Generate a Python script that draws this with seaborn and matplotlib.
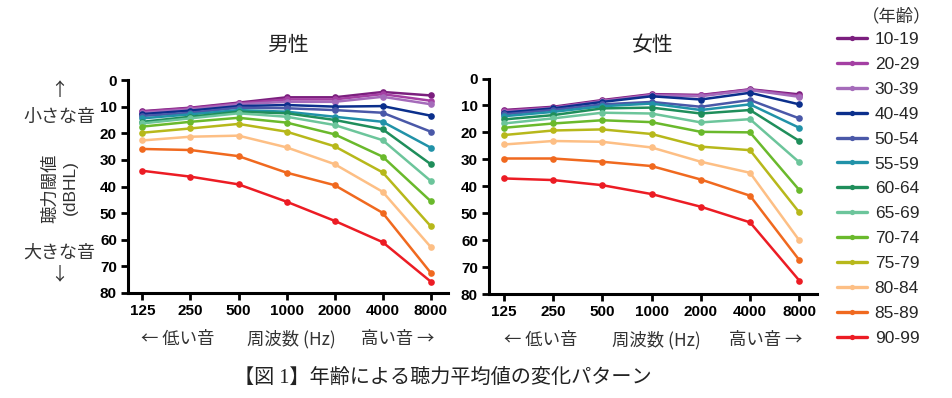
import numpy as np
import pandas as pd
import matplotlib
matplotlib.use("Agg")
import matplotlib.pyplot as plt
import matplotlib.transforms as mtransforms
from matplotlib.lines import Line2D
import seaborn as sns

freqs = ["125", "250", "500", "1000", "2000", "4000", "8000"]
ages = ["10-19", "20-29", "30-39", "40-49", "50-54", "55-59", "60-64",
        "65-69", "70-74", "75-79", "80-84", "85-89", "90-99"]
colors = ["#7b1f7e", "#a43fa3", "#a56bba", "#0b2f8c", "#4a58a8", "#2192a8",
          "#1f8e5b", "#6cc59b", "#6ab92c", "#b7b81b", "#fdbf85", "#f0691f",
          "#ec1c24"]

# hearing threshold (dBHL), one row per age group
male_db = [
    [11.7, 10.4, 8.5, 6.5, 6.5, 4.5, 5.8],
    [11.9, 10.6, 8.8, 7.3, 7.3, 5.3, 7.8],
    [12.3, 11.0, 9.1, 8.2, 8.2, 6.3, 9.1],
    [12.8, 11.5, 9.8, 9.4, 10.0, 9.8, 13.4],
    [13.5, 12.3, 10.4, 10.6, 11.3, 12.3, 19.4],
    [14.4, 12.9, 11.3, 11.9, 13.8, 15.7, 25.4],
    [15.7, 13.8, 11.9, 12.5, 15.0, 18.5, 31.6],
    [16.3, 14.4, 12.5, 13.8, 16.9, 22.6, 37.9],
    [17.5, 15.7, 14.2, 16.0, 20.4, 28.8, 45.5],
    [19.8, 18.2, 16.5, 19.4, 24.9, 34.7, 54.9],
    [22.7, 21.3, 20.9, 25.3, 31.6, 42.0, 62.7],
    [25.9, 26.3, 28.6, 34.8, 39.5, 49.9, 72.4],
    [34.1, 36.3, 39.2, 45.7, 52.9, 60.9, 75.7],
]
female_db = [
    [11.7, 10.5, 8.0, 5.8, 6.1, 4.0, 5.9],
    [12.0, 10.8, 8.3, 6.0, 6.3, 4.1, 6.4],
    [12.4, 10.9, 8.4, 6.2, 6.6, 4.3, 6.8],
    [12.7, 11.1, 8.7, 6.6, 7.8, 5.3, 9.6],
    [13.3, 11.7, 9.6, 8.7, 10.5, 8.0, 14.8],
    [14.0, 12.4, 10.3, 9.3, 11.7, 9.6, 18.3],
    [15.2, 13.6, 11.1, 10.8, 13.0, 11.7, 23.2],
    [16.7, 14.8, 12.7, 13.0, 16.3, 15.1, 31.1],
    [18.3, 16.7, 15.5, 16.2, 19.8, 20.0, 41.4],
    [21.0, 19.3, 18.9, 20.6, 25.3, 26.6, 49.7],
    [24.5, 23.2, 23.5, 25.6, 30.9, 35.0, 60.1],
    [29.7, 29.7, 30.9, 32.5, 37.5, 43.5, 67.4],
    [37.1, 37.7, 39.6, 42.9, 47.6, 53.4, 75.0],
]


def to_long(values):
    rows = []
    for age, row in zip(ages, values):
        for i, v in enumerate(row):
            rows.append({"age": age, "freq": i, "db": v})
    return pd.DataFrame(rows)


sns.set_style("ticks")
plt.rcParams["font.family"] = ["Liberation Sans", "Noto Sans CJK JP", "DejaVu Sans"]
cjk = ["Noto Sans CJK JP", "DejaVu Sans"]

fig = plt.figure(figsize=(9.53, 3.98), dpi=100)
ax_m = fig.add_axes([128 / 953, 1 - 293 / 398, 320 / 953, 213 / 398])
ax_f = fig.add_axes([489 / 953, 1 - 294 / 398, 328 / 953, 215.5 / 398])
palette = dict(zip(ages, colors))

for ax, data, title, cx in [(ax_m, male_db, "男性", 288), (ax_f, female_db, "女性", 653)]:
    df = to_long(data)
    sns.lineplot(data=df, x="freq", y="db", hue="age", palette=palette,
                 marker="o", markersize=4.8, markeredgewidth=0, lw=1.8,
                 legend=False, ax=ax)
    ax.set_xlim(-0.3, 6.36)
    ax.set_ylim(80, 0)
    ax.set_yticks(np.arange(0, 81, 10))
    ax.set_xticks(range(len(freqs)))
    ax.set_xticklabels(freqs)
    ax.set_xlabel("")
    ax.set_ylabel("")
    sns.despine(ax=ax)
    for s in ["left", "bottom"]:
        ax.spines[s].set_linewidth(2.2)
        ax.spines[s].set_color("black")
    ax.tick_params(width=2.0, length=5, labelsize=11, pad=3, colors="black")
    for lab in ax.get_xticklabels() + ax.get_yticklabels():
        lab.set_fontweight("bold")
    fig.text(cx / 953, 1 - 45 / 398, title, ha="center", va="center",
             fontsize=15, family=cjk, color="#222222")
    tr = mtransforms.blended_transform_factory(ax.transData, ax.transAxes)
    for xpos, txt in [(0.74, "← 低い音"), (3.1, "周波数 (Hz)"), (5.32, "高い音 →")]:
        ax.text(xpos, -0.215, txt, transform=tr, ha="center", va="center",
                fontsize=12.5, family=cjk, color="#333333")

# y-axis explanation
fig.text(59 / 953, 1 - 91 / 398, "↑", ha="center", va="center", fontsize=13, family=cjk, color="#333333")
fig.text(59 / 953, 1 - 117 / 398, "小さな音", ha="center", va="center", fontsize=13, family=cjk, color="#333333")
fig.text(50 / 953, 1 - 188 / 398, "聴力閾値", ha="center", va="center", rotation=90,
         fontsize=12.5, family=cjk, color="#333333")
fig.text(70 / 953, 1 - 188 / 398, "(dBHL)", ha="center", va="center", rotation=90,
         fontsize=12.5, family=["Liberation Sans"], color="#333333")
fig.text(59 / 953, 1 - 253 / 398, "大きな音", ha="center", va="center", fontsize=13, family=cjk, color="#333333")
fig.text(59 / 953, 1 - 274 / 398, "↓", ha="center", va="center", fontsize=13, family=cjk, color="#333333")

# legend
handles = [Line2D([], [], color=c, lw=2.4, marker="o", markersize=3.8, markeredgewidth=0)
           for c in colors]
leg = fig.legend(handles, ages, loc="upper left", bbox_to_anchor=(837 / 953, 1 - 32 / 398),
                 frameon=False, fontsize=12.5, handlelength=1.75, handletextpad=0.42,
                 labelspacing=0.56, borderaxespad=0, borderpad=0)
fig.text(897 / 953, 1 - 16 / 398, "（年齢）", ha="center", va="center",
         fontsize=12.5, family=cjk, color="#333333")

fig.text(443 / 953, 1 - 378 / 398, "【図 1】年齢による聴力平均値の変化パターン",
         ha="center", va="center", fontsize=14.5,
         family=["Liberation Serif", "Noto Sans CJK JP"], color="#222222")

fig.savefig("out.png", dpi=100)
